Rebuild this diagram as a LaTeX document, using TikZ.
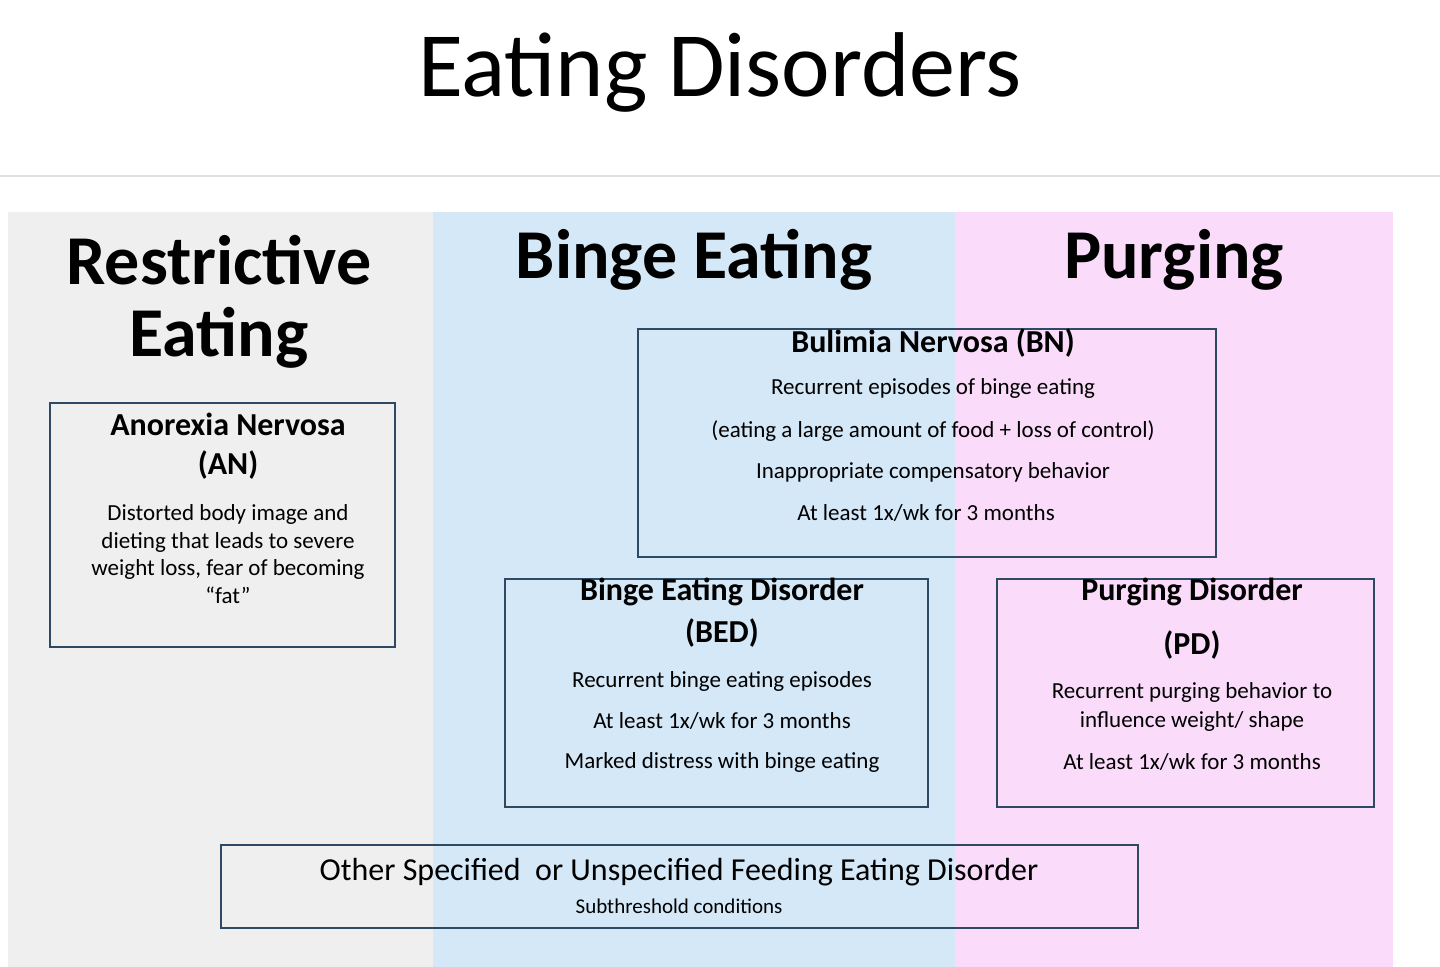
\documentclass[tikz,border=0pt]{standalone}
\usepackage{fontspec}
\setmainfont{Carlito}
\definecolor{bgG}{HTML}{EFEFEF}
\definecolor{bgB}{HTML}{D4E8F8}
\definecolor{bgP}{HTML}{FADCFA}
\definecolor{bord}{HTML}{2E4A62}
\begin{document}
\begin{tikzpicture}[x=0.5pt,y=-0.5pt,
  box/.style={draw=bord,line width=1.1pt},
  hd/.style={font=\fontsize{35}{40}\selectfont\bfseries,inner sep=0pt},
  bt/.style={font=\fontsize{16}{20}\selectfont\bfseries,inner sep=0pt},
  tx/.style={font=\fontsize{11.5}{14}\selectfont,inner sep=0pt,align=center}]
\useasboundingbox (0,0) rectangle (1440,967);
\fill[white] (0,0) rectangle (1440,967);
\draw[black!12,line width=1.2pt] (0,176) -- (1440,176);
\fill[bgG] (8,212) rectangle (433,967);
\fill[bgB] (433,212) rectangle (955,967);
\fill[bgP] (955,212) rectangle (1393,967);
\node[font=\fontsize{46}{50}\selectfont,inner sep=0pt] (title) at (720,72) {Eating Disorders};
\node[hd] (h1) at (219,260) {Restrictive};
\node[hd] (h1b) at (219,338) {Eating};
\node[hd] (h2) at (694,260) {Binge Eating};
\node[hd] (h3) at (1174,260) {Purging};
% AN
\draw[box] (50,403) rectangle (395,647);
\node[bt] (an1) at (228,424) {Anorexia Nervosa};
\node[bt] (an2) at (228,465) {(AN)};
\node[tx,font=\fontsize{11.5}{13.7}\selectfont] (an3) at (228,554) {Distorted body image and\\dieting that leads to severe\\weight loss, fear of becoming\\“fat”};
% BN
\draw[box] (638,329) rectangle (1216,557);
\node[bt] (bn1) at (933,343) {Bulimia Nervosa (BN)};
\node[tx] (bn2) at (933,388) {Recurrent episodes of binge eating};
\node[tx] (bn3) at (933,431) {(eating a large amount of food + loss of control)};
\node[tx] (bn4) at (933,472) {Inappropriate compensatory behavior};
\node[tx] (bn5) at (926,513) {At least 1x/wk for 3 months};
% BED
\draw[box] (505,579) rectangle (928,807);
\node[bt] (bed1) at (722,592) {Binge Eating Disorder};
\node[bt] (bed2) at (722,633) {(BED)};
\node[tx] (bed3) at (722,681) {Recurrent binge eating episodes};
\node[tx] (bed4) at (722,721) {At least 1x/wk for 3 months};
\node[tx] (bed5) at (722,762) {Marked distress with binge eating};
% PD
\draw[box] (997,579) rectangle (1374,807);
\node[bt] (pd1) at (1192,592) {Purging Disorder};
\node[bt] (pd2) at (1192,645) {(PD)};
\node[tx,font=\fontsize{11.5}{14.5}\selectfont] (pd3) at (1192,707) {Recurrent purging behavior to\\influence weight/ shape};
\node[tx] (pd4) at (1192,762) {At least 1x/wk for 3 months};
% OSFED
\draw[box] (221,845) rectangle (1138,928);
\node[inner sep=0pt,font=\fontsize{16}{20}\selectfont] (os1) at (679,872) {Other Specified\ \ or Unspecified Feeding Eating Disorder};
\node[tx,font=\fontsize{10.5}{12}\selectfont] (os2) at (679,906) {Subthreshold conditions};
\end{tikzpicture}
\end{document}
